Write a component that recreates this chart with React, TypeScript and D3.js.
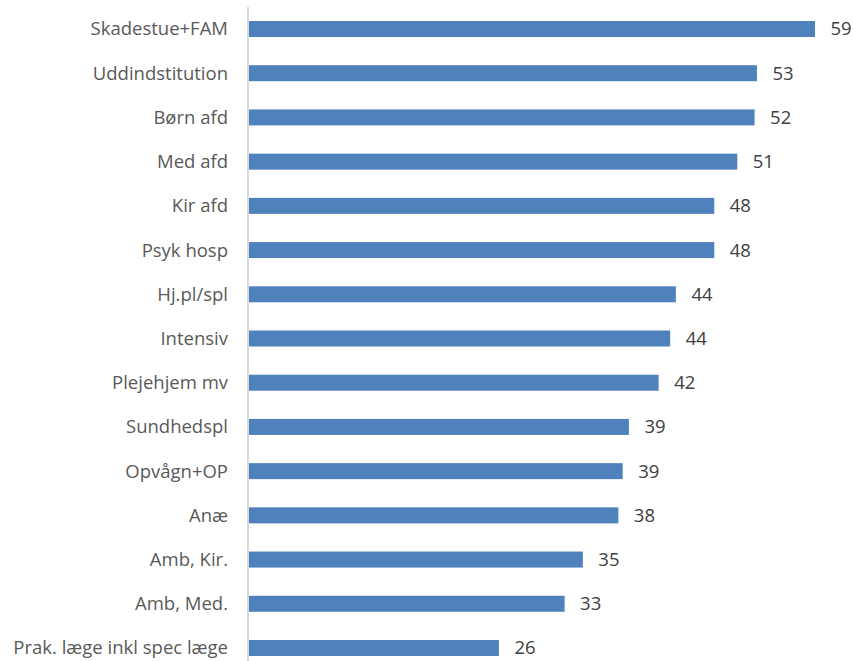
import React from "react";
import * as d3 from "d3";

const categories = [
  "Skadestue+FAM",
  "Uddindstitution",
  "Børn afd",
  "Med afd",
  "Kir afd",
  "Psyk hosp",
  "Hj.pl/spl",
  "Intensiv",
  "Plejehjem mv",
  "Sundhedspl",
  "Opvågn+OP",
  "Anæ",
  "Amb, Kir.",
  "Amb, Med.",
  "Prak. læge inkl spec læge",
];
// bar lengths
const values = [59, 52.95, 52.7, 50.9, 48.5, 48.5, 44.5, 43.9, 42.7, 39.6, 38.95, 38.5, 34.8, 32.9, 26.05];
// data labels as printed
const valueLabels = ["59", "53", "52", "51", "48", "48", "44", "44", "42", "39", "39", "38", "35", "33", "26"];

const W = 853;
const H = 661;

export default function App() {
  const x = d3.scaleLinear().domain([0, 59]).range([249, 815]);
  const y = d3
    .scaleBand<string>()
    .domain(categories)
    .range([6.9, 670.1])
    .paddingInner(0.638)
    .paddingOuter(0.319);
  const bw = y.bandwidth();
  const font = "'Open Sans', sans-serif";
  const fs = 18.5;
  return (
    <svg
      width={W}
      height={H}
      style={{ position: "absolute", left: 0, top: 0, background: "#fff" }}
      fontFamily={font}
    >
      {categories.map((c, i) => {
        const yc = (y(c) as number) + bw / 2;
        return (
          <g key={c}>
            <rect x={x(0)} y={y(c)} width={x(values[i]) - x(0)} height={bw} fill="#4f81bd" />
            <text x={228} y={yc} dy="0.35em" textAnchor="end" fontSize={fs} fill="#595959">
              {c}
            </text>
            <text x={x(values[i]) + 15.5} y={yc} dy="0.35em" textAnchor="start" fontSize={fs} fill="#404040">
              {valueLabels[i]}
            </text>
          </g>
        );
      })}
      <line x1={248} x2={248} y1={7} y2={H} stroke="#d9d9d9" strokeWidth={2} />
    </svg>
  );
}
